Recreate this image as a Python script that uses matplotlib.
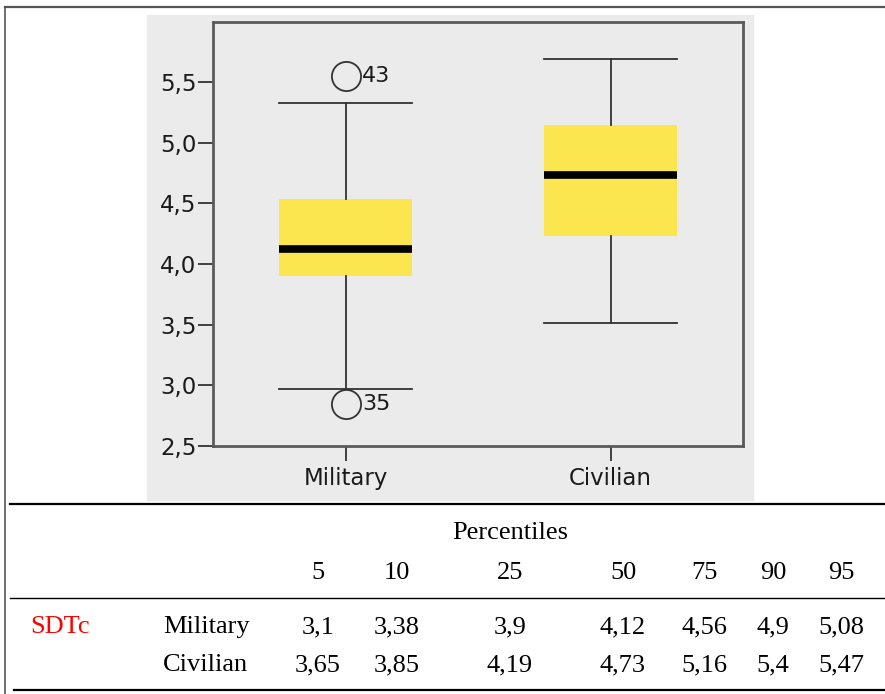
import matplotlib.pyplot as plt
from matplotlib.lines import Line2D
from matplotlib.patches import Rectangle

# boxplot data
groups = ['Military', 'Civilian']
q1 = [3.90, 4.23]
med = [4.12, 4.73]
q3 = [4.54, 5.15]
whislo = [2.97, 3.51]
whishi = [5.33, 5.69]
fliers = [[5.55, 2.85], []]
flier_ids = [['43', '35'], []]
yticks = [2.5, 3.0, 3.5, 4.0, 4.5, 5.0, 5.5]

# table below the chart
pct_labels = ['5', '10', '25', '50', '75', '90', '95']
var_name = 'SDTc'
row_names = ['Military', 'Civilian']
mil_pct = ['3,1', '3,38', '3,9', '4,12', '4,56', '4,9', '5,08']
civ_pct = ['3,65', '3,85', '4,19', '4,73', '5,16', '5,4', '5,47']

W, H = 885, 694
fig = plt.figure(figsize=(W / 100, H / 100), dpi=100)


def fx(x):
    return x / W


def fy(y):
    return 1 - y / H


# gray panel behind the plot
fig.patches.append(Rectangle((fx(147), fy(500)), fx(753) - fx(147), fy(15) - fy(500),
                             transform=fig.transFigure, color='#ebebeb', zorder=-1))

ax = fig.add_axes([fx(213), fy(446), fx(743) - fx(213), fy(22) - fy(446)])
ax.set_zorder(2)
ax.set_facecolor('#ebebeb')

stats = []
for i in range(len(groups)):
    stats.append(dict(label=groups[i], q1=q1[i], med=med[i], q3=q3[i],
                      whislo=whislo[i], whishi=whishi[i], fliers=fliers[i]))

ax.bxp(stats, positions=[1, 2], widths=0.5, patch_artist=True,
       boxprops=dict(facecolor='#fce64f', edgecolor='none'),
       medianprops=dict(color='black', linewidth=5.5, solid_capstyle='butt'),
       whiskerprops=dict(color='#333333', linewidth=1.3),
       capprops=dict(color='#333333', linewidth=1.3),
       capwidths=0.5,
       flierprops=dict(marker='o', markersize=21, markerfacecolor='none',
                       markeredgecolor='#333333', markeredgewidth=1.3))

for i in range(len(groups)):
    for v, lab in zip(fliers[i], flier_ids[i]):
        ax.text(i + 1 + 0.062, v, lab, fontsize=16, va='center', ha='left', color='#1a1a1a')

ax.set_xlim(0.5, 2.5)
ax.set_ylim(2.5, 5.995)
ax.set_yticks(yticks)
ax.set_yticklabels([f'{t:.1f}'.replace('.', ',') for t in yticks])
ax.tick_params(axis='both', direction='out', length=11, width=1.3, color='#333333',
               labelsize=16.5, labelcolor='#1a1a1a', pad=1)
ax.tick_params(axis='x', pad=4)
for s in ax.spines.values():
    s.set_color('#5a5a5a')
    s.set_linewidth(2)

# outer frame lines
fig.add_artist(Line2D([fx(5), fx(885)], [fy(7), fy(7)], color='#555555', lw=1.6))
fig.add_artist(Line2D([fx(5), fx(5)], [fy(7), fy(694)], color='#555555', lw=1.2))

# table rules
fig.add_artist(Line2D([fx(10), fx(885)], [fy(504), fy(504)], color='black', lw=1.6))
fig.add_artist(Line2D([fx(10), fx(885)], [fy(598), fy(598)], color='black', lw=1.0))
fig.add_artist(Line2D([fx(14), fx(885)], [fy(690), fy(690)], color='black', lw=1.6))

serif = 'Liberation Serif'
fs = 19
col_x = [318, 397, 510, 623, 704, 773, 841]
fig.text(fx(510), fy(533), 'Percentiles', family=serif, fontsize=fs, ha='center', va='center')
for x, lab in zip(col_x, pct_labels):
    fig.text(fx(x), fy(573), lab, family=serif, fontsize=fs, ha='center', va='center')

fig.text(fx(30), fy(627), var_name, family=serif, fontsize=fs, color='red', ha='left', va='center')
for y, name, vals in zip([627, 665], row_names, [mil_pct, civ_pct]):
    fig.text(fx(163), fy(y), name, family=serif, fontsize=fs, ha='left', va='center')
    for x, v in zip(col_x, vals):
        fig.text(fx(x), fy(y), v, family=serif, fontsize=fs, ha='center', va='center')

fig.savefig('out.png', dpi=100)
